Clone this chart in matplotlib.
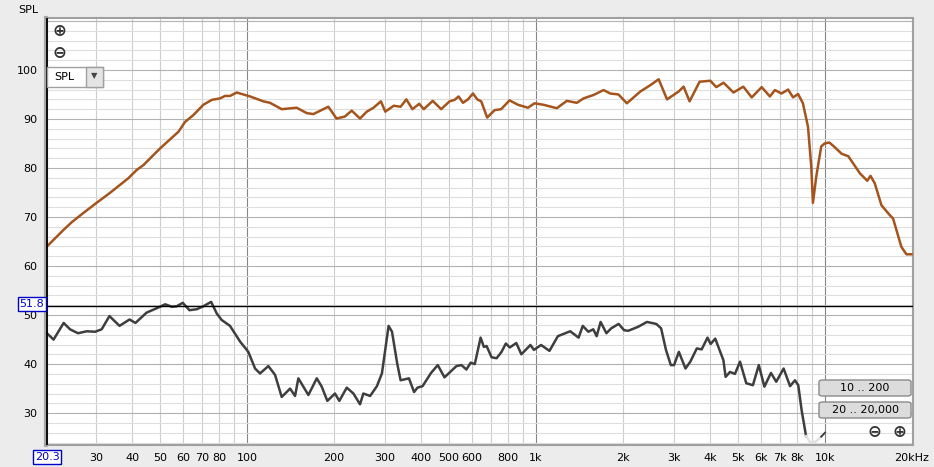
import matplotlib.pyplot as plt
from matplotlib.patches import FancyBboxPatch, Rectangle
from matplotlib.ticker import FixedLocator, NullFormatter

# Upper trace (SPL, orange-brown)
spl_freq = [20.3, 23.1, 24.8, 27.1, 30.0, 32.8, 34.0, 38.8, 41.5, 43.8, 50.0, 57.9, 61.0,
            65.2, 70.6, 75.5, 80.6, 83.9, 87.3, 92.1, 102.4, 113.9, 120.1, 131.8, 148.5,
            160.9, 169.6, 191.1, 204.0, 218.1, 230.2, 246.0, 259.6, 273.9, 290.6, 300.8,
            321.9, 339.9, 355.9, 373.4, 394.3, 408.6, 439.2, 469.6, 502.0, 522.5, 539.6,
            558.6, 581.3, 605.0, 626.2, 646.1, 677.6, 718.8, 757.4, 809.4, 865.8, 937.4,
            988.2, 1061, 1180, 1278, 1384, 1460, 1582, 1713, 1806, 1929, 2062, 2295,
            2486, 2657, 2840, 3115, 3241, 3399, 3681, 4010, 4205, 4456, 4822, 5216,
            5577, 6036, 6447, 6707, 7070, 7453, 7755, 8070, 8387, 8733, 8963, 9082,
            9324, 9703, 9965, 10350, 10830, 11420, 12040, 13210, 14000, 14370, 14860,
            15680, 16750, 17200, 18380, 19130, 19900]
spl_db = [64.0, 67.3, 69.0, 70.8, 72.8, 74.5, 75.2, 77.9, 79.6, 80.6, 84.0, 87.4, 89.4,
          90.8, 92.9, 93.9, 94.2, 94.7, 94.7, 95.4, 94.6, 93.6, 93.3, 92.0, 92.3,
          91.2, 91.0, 92.5, 90.1, 90.5, 91.7, 90.1, 91.5, 92.3, 93.6, 91.5,
          92.7, 92.5, 94.0, 92.0, 93.1, 92.0, 93.7, 92.0, 93.6, 93.9, 94.6,
          93.3, 94.0, 95.2, 94.0, 93.6, 90.3, 91.8, 92.0, 93.8, 92.9, 92.3,
          93.2, 92.9, 92.2, 93.7, 93.3, 94.2, 94.9, 95.9, 95.2, 95.0, 93.2, 95.6,
          96.9, 98.1, 94.0, 95.6, 96.6, 93.6, 97.6, 97.8, 96.5, 97.4, 95.4, 96.6,
          94.4, 96.5, 94.6, 95.9, 95.2, 96.0, 94.4, 95.1, 93.2, 88.4, 80.3, 72.9,
          78.2, 84.4, 85.0, 85.2, 84.2, 82.9, 82.4, 78.9, 77.4, 78.4, 76.9,
          72.4, 70.4, 69.7, 63.9, 62.4, 62.4]

# Lower trace (dark grey)
low_freq = [20.3, 21.4, 23.2, 24.4, 26.0, 27.9, 29.8, 31.4, 33.4, 36.2, 39.2, 41.1, 44.9,
            48.7, 52.1, 54.9, 57.1, 59.9, 63.2, 67.0, 70.6, 75.1, 78.6, 81.7, 87.3,
            94.6, 101.0, 106.6, 110.9, 118.5, 125.0, 131.8, 140.9, 146.6, 150.5, 163.0,
            174.3, 181.3, 189.6, 201.5, 208.6, 221.3, 233.4, 246.0, 252.6, 266.6, 281.4,
            292.9, 308.9, 317.4, 330.9, 339.9, 363.3, 378.4, 388.9, 404.9, 433.2, 457.0,
            482.2, 530.3, 551.8, 574.2, 594.3, 613.8, 643.0, 660.1, 674.3, 701.7, 730.2,
            759.8, 786.2, 811.4, 854.5, 889.7, 956.3, 983.4, 1041, 1113, 1190, 1313,
            1404, 1451, 1517, 1578, 1621, 1673, 1752, 1821, 1931, 2019, 2085, 2254,
            2420, 2607, 2709, 2816, 2927, 3003, 3121, 3290, 3419, 3601, 3743, 3920,
            4020, 4170, 4450, 4530, 4690, 4880, 5080, 5340, 5630, 5900, 6170, 6500,
            6780, 7190, 7570, 7870, 8080, 8300, 8600]
low_db = [46.3, 45.0, 48.4, 47.1, 46.3, 46.7, 46.6, 47.1, 49.8, 47.8, 49.1, 48.4, 50.5,
          51.4, 52.2, 51.7, 51.8, 52.5, 51.0, 51.2, 51.8, 52.7, 50.3, 49.0, 47.8,
          44.6, 42.5, 39.1, 38.1, 39.6, 37.8, 33.3, 35.0, 33.5, 37.1, 33.7,
          37.1, 35.4, 32.5, 34.0, 32.5, 35.2, 34.0, 31.8, 34.0, 33.5, 35.5,
          38.1, 47.8, 46.6, 40.1, 36.7, 37.1, 34.3, 35.2, 35.5, 38.2, 39.8,
          37.3, 39.6, 39.8, 38.9, 40.3, 40.0, 45.4, 43.5, 43.7, 41.4, 41.2,
          42.5, 44.2, 43.4, 44.3, 42.0, 43.9, 42.9, 43.9, 42.7, 45.7, 46.7,
          45.4, 47.8, 46.6, 47.1, 45.7, 48.6, 46.3, 47.3, 48.2, 46.9, 46.8, 47.6,
          48.6, 48.2, 47.3, 42.9, 39.8, 39.8, 42.5, 39.1, 40.5, 43.2, 43.0, 45.4,
          44.1, 45.2, 40.8, 37.4, 38.4, 38.0, 40.5, 36.1, 35.7, 39.8, 35.4, 38.2,
          36.4, 39.1, 35.5, 36.7, 35.7, 30.6, 25.3]
# faded tail near the lower limit, then a short dark stub up to 10k
fade_freq = [8600, 8900, 9300, 9700]
fade_db = [25.3, 24.0, 24.2, 25.2]
stub_freq = [9700, 10000]
stub_db = [25.2, 26.0]

x_ticks = [30, 40, 50, 60, 70, 80, 100, 200, 300, 400, 500, 600, 800,
           1000, 2000, 3000, 4000, 5000, 6000, 7000, 8000, 10000, 20000]
x_labels = ["30", "40", "50", "60", "70", "80", "100", "200", "300", "400", "500", "600", "800",
            "1k", "2k", "3k", "4k", "5k", "6k", "7k", "8k", "10k", "20kHz"]
y_ticks = [30, 40, 50, 60, 70, 80, 90, 100]
cursor_x = 20.3
cursor_y = 51.8

W, H = 934, 467
fig = plt.figure(figsize=(W / 100, H / 100), dpi=100, facecolor='#ececec')
ax = fig.add_axes([46 / W, 1 - 445 / H, (913 - 46) / W, (445 - 18) / H])
ax.set_facecolor('white')
ax.set_xscale('log')
ax.set_xlim(20.15, 20160)
ax.set_ylim(23.5, 110.6)

# grid
minor_x = [f * m for f in (10, 100, 1000, 10000) for m in range(1, 10)]
minor_x = [f for f in minor_x if 20.15 < f < 20160 and f not in (100, 1000, 10000)]
for f in minor_x:
    ax.axvline(f, color='#cdcdcd', lw=0.8, zorder=0)
for f in (100, 1000, 10000):
    ax.axvline(f, color='#858585', lw=0.8, zorder=0)
for d in range(24, 111, 2):
    ax.axhline(d, color='#b2b2b2' if d % 10 == 0 else '#dedede', lw=0.8, zorder=0)

ax.plot(spl_freq, spl_db, color='#a4541c', lw=1.8, solid_joinstyle='round', zorder=3)
ax.plot(low_freq, low_db, color='#3e3e3e', lw=1.8, solid_joinstyle='round', zorder=3)
ax.plot(fade_freq, fade_db, color='#e2e2e2', lw=1.8, zorder=3)
ax.plot(stub_freq, stub_db, color='#3e3e3e', lw=1.4, zorder=3)

# cursors
ax.axhline(cursor_y, color='black', lw=1, zorder=4)
ax.axvline(cursor_x, color='black', lw=1.3, zorder=4)

ax.xaxis.set_major_locator(FixedLocator(x_ticks))
ax.set_xticklabels(x_labels)
ax.xaxis.set_minor_formatter(NullFormatter())
ax.set_yticks(y_ticks)
ax.tick_params(axis='both', which='both', length=0, labelsize=8, colors='black')
ax.tick_params(axis='x', pad=6)
ax.tick_params(axis='y', pad=6)
for s in ax.spines.values():
    s.set_color('#a0a0a0')
    s.set_linewidth(1.5)
ax.spines['left'].set_color('#a8a8a8')
ax.spines['left'].set_linewidth(3)


def fx(x):
    return x / W


def fy(y):
    return 1 - y / H


fig.text(fx(18), fy(10), "SPL", fontsize=8, ha='left', va='center')
box = dict(boxstyle='square,pad=0.15', fc='white', ec='#0000cc', lw=1)
fig.text(fx(32), fy(304), f"{cursor_y:.1f}", fontsize=8, color='#0000cc', ha='center', va='center', bbox=box)
fig.text(fx(47), fy(457), f"{cursor_x:.1f}", fontsize=8, color='#0000cc', ha='center', va='center', bbox=box)

# zoom icons
for (x, y, ch) in [(59, 31, "\u2295"), (59, 53, "\u2296"), (874, 432, "\u2296"), (899, 432, "\u2295")]:
    fig.text(fx(x), fy(y), ch, fontsize=12, color='#333333', ha='center', va='center', fontweight='bold')

# SPL dropdown
fig.patches.append(Rectangle((fx(47), fy(87)), fx(56), 20 / H, transform=fig.transFigure,
                             fc='white', ec='#a0a0a0', lw=1, zorder=5))
fig.patches.append(Rectangle((fx(86), fy(87)), fx(17), 20 / H, transform=fig.transFigure,
                             fc='#e4e4e4', ec='#a0a0a0', lw=1, zorder=5))
fig.text(fx(54), fy(77), "SPL", fontsize=8, ha='left', va='center', zorder=6)
fig.text(fx(94.5), fy(76), "\u25BC", fontsize=6, color='#444444', ha='center', va='center', zorder=6)

# range buttons
for (y, label) in [(388, "10 .. 200"), (410, "20 .. 20,000")]:
    fig.patches.append(FancyBboxPatch((fx(819), fy(y + 8)), fx(92), 16 / H,
                                      boxstyle='round,pad=0,rounding_size=0.004',
                                      transform=fig.transFigure, fc='#dcdcdc', ec='#8a8a8a',
                                      lw=1, zorder=5))
    fig.text(fx(865), fy(y), label, fontsize=8, ha='center', va='center', zorder=6)

fig.savefig('out.png', dpi=100, facecolor=fig.get_facecolor())
